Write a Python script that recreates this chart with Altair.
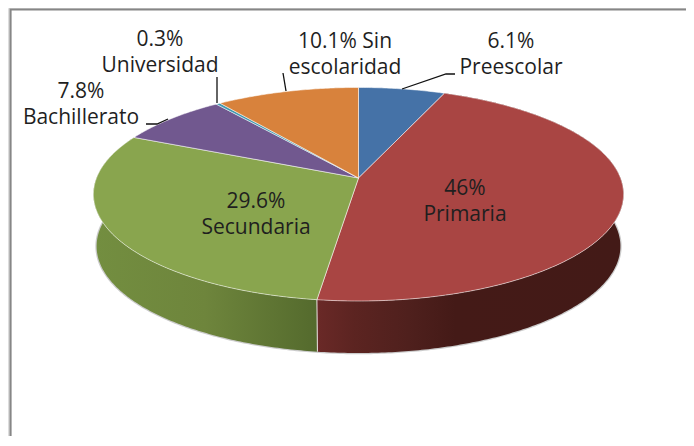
import math
import altair as alt
import pandas as pd

categories = ["Preescolar", "Primaria", "Secundaria", "Bachillerato", "Universidad", "Sin escolaridad"]
values = [6.1, 46, 29.6, 7.8, 0.3, 10.1]
colors = ["#4572a7", "#a94543", "#89a54e", "#71588f", "#4198af", "#d8823c"]

W, H = 678, 428
# pie geometry in picture pixels: perspective projection of a disc
APEX_X, APEX_Y = 358.5, 178
A, B, K = 262, 104.3, 0.152
DEPTH, SHRINK = 52, 0.988


def project(theta, base=False):
    u, v = math.sin(theta), math.cos(theta)
    w = 1 + K * v
    s = SHRINK if base else 1
    return APEX_X + s * A * u / w - 8, APEX_Y - B * v / w + (DEPTH if base else 0) - 8


def arc(t0, t1, base=False):
    n = max(2, int(abs(t1 - t0) * 90))
    return [project(t0 + (t1 - t0) * i / n, base) for i in range(n + 1)]


total = sum(values)
bounds = [0]
for v in values:
    bounds.append(bounds[-1] + v / total * 2 * math.pi)

xs = alt.X("x:Q", scale=alt.Scale(domain=[0, W], nice=False, zero=False), axis=None)
ys = alt.Y("y:Q", scale=alt.Scale(domain=[H, 0], nice=False, zero=False), axis=None)


def polygon(points, **mark):
    df = pd.DataFrame(points, columns=["x", "y"])
    df["o"] = range(len(df))
    return alt.Chart(df).mark_line(clip=False, **mark).encode(xs, ys, order="o:Q")


def side(t0, t1, stops):
    pts = arc(t0, t1) + arc(t1, t0, True)
    grad = alt.Gradient(
        gradient="linear", x1=0, x2=1, y1=0, y2=0,
        stops=[alt.GradientStop(offset=o, color=c) for o, c in stops],
    )
    return polygon(pts + pts[:1], fill=grad, strokeWidth=0)


layers = []
# frame
layers.append(polygon([(2.5, H), (2.5, 1.5), (W, 1.5)], stroke="#868686", strokeWidth=2.2))
# soft shadow under the rim
layers.append(polygon(arc(math.radians(82), math.radians(285), True), stroke="#b5b5b5", strokeWidth=2.5, opacity=0.7))
# rim: Primaria and Secundaria are the only slices in front
layers.append(side(bounds[1], bounds[2], [(0, "#6a2927"), (0.12, "#5c2421"), (0.3, "#4f201d"), (0.45, "#441a17"), (1, "#431a17")]))
layers.append(side(bounds[2], bounds[3], [(0, "#738e40"), (0.5, "#6e853c"), (1, "#546a2d")]))
# seam between the two rim parts
layers.append(polygon([project(bounds[2]), project(bounds[2], True)], stroke="#e8e0e0", strokeWidth=1))
# top faces
for i, c in enumerate(colors):
    pts = [(APEX_X - 8, APEX_Y - 8)] + arc(bounds[i], bounds[i + 1]) + [(APEX_X - 8, APEX_Y - 8)]
    layers.append(polygon(pts, fill=c, stroke="#ffffff", strokeWidth=0.7, strokeOpacity=0.75))

# leader lines
leaders = [
    [(402, 89), (446, 74), (455, 74)],
    [(286, 91), (283, 73)],
    [(217, 103), (217, 77)],
    [(168, 119), (157, 124), (146, 124)],
]
for line in leaders:
    layers.append(polygon([(x - 8, y - 8) for x, y in line], stroke="#111111", strokeWidth=1.3))

# labels
label_rows = [
    ("6.1%", 511, 42), ("Preescolar", 511, 68),
    ("46%", 465, 189), ("Primaria", 465, 215),
    ("29.6%", 256, 202), ("Secundaria", 256, 228),
    ("7.8%", 81, 92), ("Bachillerato", 81, 118),
    ("0.3%", 160, 40), ("Universidad", 160, 66),
    ("10.1% Sin", 345, 42), ("escolaridad", 345, 68),
]
labels = pd.DataFrame(label_rows, columns=["t", "x", "y"])
labels["x"] -= 8
labels["y"] -= 8
layers.append(
    alt.Chart(labels)
    .mark_text(font="Open Sans", fontSize=21, color="#1f1f1f", align="center", baseline="middle")
    .encode(xs, ys, text="t:N")
)

chart = (
    alt.layer(*layers)
    .properties(width=W, height=H, padding=0, autosize=alt.AutoSizeParams(type="none"))
    .configure_view(stroke=None)
    .configure(background="#ffffff")
)
chart.save("out.html", embed_options={"renderer": "svg", "actions": False})
